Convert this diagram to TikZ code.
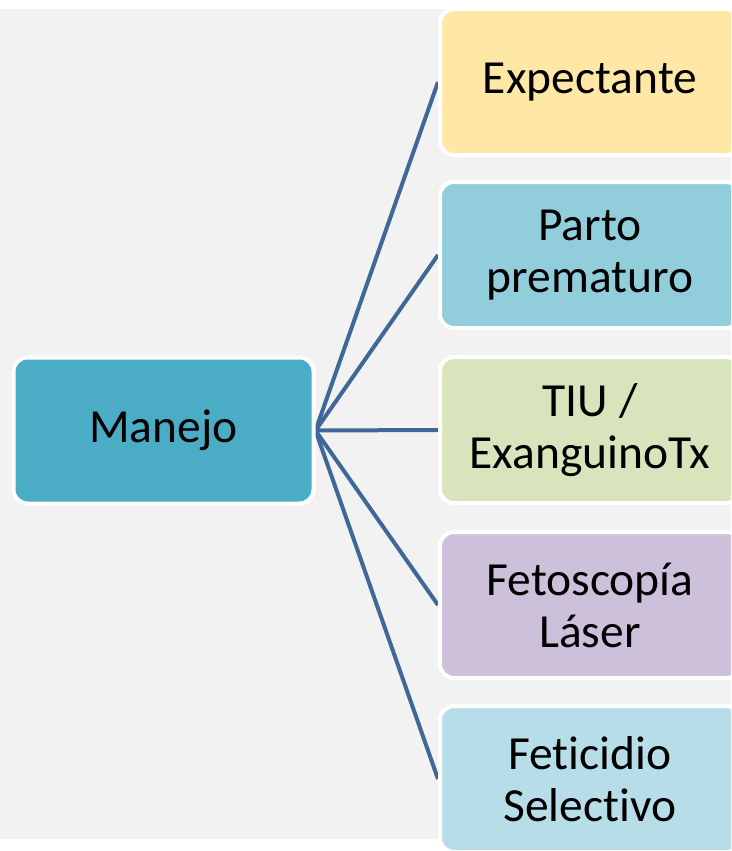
\documentclass[tikz,border=0pt]{standalone}
\usepackage{fontspec}
\setmainfont[Ligatures=NoCommon]{Carlito}
\usetikzlibrary{backgrounds}
\definecolor{bggray}{HTML}{F2F2F2}
\definecolor{linec}{HTML}{3F6797}
\definecolor{cmanejo}{HTML}{4BACC6}
\definecolor{cexp}{HTML}{FFE8A6}
\definecolor{cparto}{HTML}{92CDDC}
\definecolor{ctiu}{HTML}{D8E4BC}
\definecolor{cfeto}{HTML}{CCC0DA}
\definecolor{cfeti}{HTML}{B7DEE8}
\begin{document}
\begin{tikzpicture}[x=1pt,y=1pt,
  box/.style={rectangle, rounded corners=14pt, draw=white, line width=4pt,
    minimum width=300pt, minimum height=146pt, align=center, inner sep=0pt,
    font=\fontsize{47.5}{52}\selectfont},
  conn/.style={draw=linec, line width=4pt}]
\useasboundingbox (0,0) rectangle (731,-851);
\clip (0,0) rectangle (731,-851);
\node[box, fill=cmanejo] (m) at (163.5,-430.5) {Manejo};
\node[box, fill=cexp] (a) at (590,-82) {Expectante};
\node[box, fill=cparto] (b) at (590,-255) {Parto\\prematuro};
\node[box, fill=ctiu] (c) at (590,-430) {TIU /\\ExanguinoTx};
\node[box, fill=cfeto] (d) at (590,-605) {Fetoscopía\\Láser};
\node[box, fill=cfeti] (e) at (590,-779) {Feticidio\\Selectivo};
\begin{scope}[on background layer]
\fill[bggray] (0,-9) rectangle (731,-839);
\foreach \t in {a,b,c,d,e} {\draw[conn] (m.east) -- (\t.west);}
\end{scope}
\end{tikzpicture}
\end{document}
